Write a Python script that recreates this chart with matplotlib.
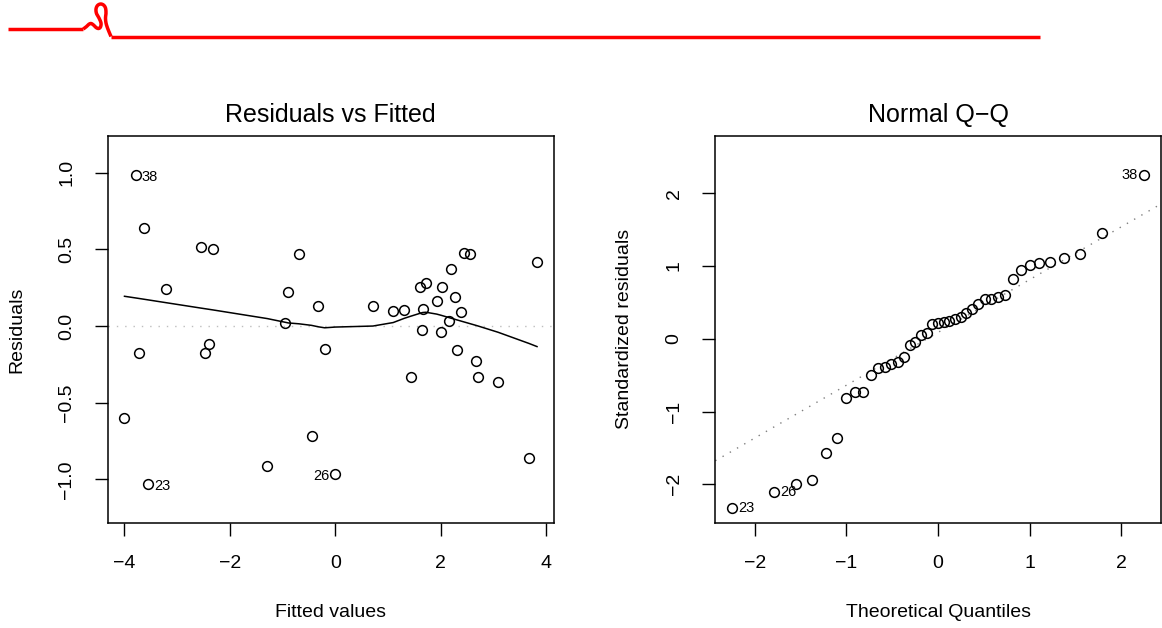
import numpy as np
import matplotlib
matplotlib.use("Agg")
import matplotlib.pyplot as plt
from matplotlib.lines import Line2D

plt.rcParams['font.family'] = ['Liberation Sans', 'DejaVu Sans']

# ---------------- data ----------------
fitted = [-3.79, -3.63, -2.55, -2.32, -0.69, -3.22, -0.89, -0.32, -0.955, -3.72,
          -2.47, -2.40, -0.20, -4.00, -3.56, -1.29, -0.45, 0.00, 0.715, 1.10,
          1.31, 1.66, 1.60, 1.72, 2.02, 1.925, 2.265, 2.19, 2.44, 2.56,
          2.39, 2.165, 1.65, 2.00, 3.83, 2.31, 2.67, 1.43, 2.71, 3.09, 3.68]
residuals = [0.985, 0.641, 0.517, 0.502, 0.468, 0.243, 0.220, 0.132, 0.022, -0.178,
             -0.178, -0.117, -0.150, -0.598, -1.029, -0.913, -0.720, -0.967, 0.128, 0.098,
             0.104, 0.111, 0.252, 0.278, 0.257, 0.161, 0.189, 0.374, 0.476, 0.470,
             0.091, 0.031, -0.026, -0.039, 0.417, -0.159, -0.230, -0.333, -0.333, -0.367, -0.863]
rvf_label_text = ["38", "23", "26"]
rvf_label_idx = [0, 14, 17]

theoretical_q = [-2.251, -1.792, -1.546, -1.370, -1.228, -1.107, -1.000, -0.904, -0.816, -0.733,
                 -0.655, -0.582, -0.511, -0.442, -0.375, -0.310, -0.246, -0.184, -0.123, -0.061,
                 0.000, 0.061, 0.123, 0.184, 0.246, 0.310, 0.375, 0.442, 0.511, 0.582,
                 0.655, 0.733, 0.816, 0.904, 1.000, 1.107, 1.228, 1.370, 1.546, 1.792, 2.251]
std_residuals = [-2.33, -2.11, -1.995, -1.935, -1.57, -1.364, -0.815, -0.733, -0.728, -0.505,
                 -0.403, -0.39, -0.344, -0.321, -0.258, -0.084, -0.052, 0.05, 0.08, 0.204,
                 0.218, 0.228, 0.246, 0.273, 0.296, 0.359, 0.41, 0.475, 0.543, 0.551,
                 0.575, 0.606, 0.826, 0.945, 1.018, 1.041, 1.051, 1.114, 1.16, 1.457, 2.244]
qq_label_text = ["38", "23", "26"]
qq_label_idx = [40, 0, 1]

rvf_xticks = [-4, -2, 0, 2, 4]
rvf_yticks = [-1.0, -0.5, 0.0, 0.5, 1.0]
qq_ticks = [-2, -1, 0, 1, 2]


def lowess(x, y, f=2/3, iters=3):
    x = np.asarray(x, float); y = np.asarray(y, float)
    o = np.argsort(x, kind='stable'); x = x[o]; y = y[o]
    n = len(x)
    ns = max(2, min(n, int(f * n + 1e-7)))
    rw = np.ones(n)
    ys = np.zeros(n)
    rng = x[-1] - x[0]
    for it in range(iters + 1):
        nleft, nright = 0, ns - 1
        for i in range(n):
            while nright < n - 1 and x[i] - x[nleft] > x[nright + 1] - x[i]:
                nleft += 1; nright += 1
            h = max(x[i] - x[nleft], x[nright] - x[i])
            h9, h1 = 0.999 * h, 0.001 * h
            w = np.zeros(n)
            for j in range(nleft, n):
                r = abs(x[j] - x[i])
                if r <= h9:
                    w[j] = 1.0 if r <= h1 else (1 - (r / h) ** 3) ** 3
                    if it > 0:
                        w[j] *= rw[j]
                elif x[j] > x[i]:
                    break
            a = w.sum()
            if a <= 0:
                ys[i] = y[i]; continue
            w /= a
            if h > 0:
                a = np.sum(w * x)
                c = np.sum(w * (x - a) ** 2)
                if np.sqrt(c) > 0.001 * rng:
                    b = (x[i] - a) / c
                    w = w * (b * (x - a) + 1)
            ys[i] = np.sum(w * y)
        if it == iters:
            break
        res = y - ys
        cmad = 6 * np.median(np.abs(res))
        if cmad < 1e-7 * np.mean(np.abs(y)):
            break
        rr = np.abs(res)
        rw = np.where(rr <= 0.001 * cmad, 1.0,
                      np.where(rr > 0.999 * cmad, 0.0, (1 - (rr / cmad) ** 2) ** 2))
    return x, ys


W, H = 1162, 628
fig = plt.figure(figsize=(W / 100, H / 100), dpi=100)

ax1 = fig.add_axes([108 / W, 1 - 522.7 / H, 445.5 / W, 386.7 / H])
ax2 = fig.add_axes([715.3 / W, 1 - 522.7 / H, 445.4 / W, 386.7 / H])

marker_kw = dict(marker='o', linestyle='none', markersize=7.0, markerfacecolor='none',
                 markeredgecolor='black', markeredgewidth=1.1)

# ---- Residuals vs Fitted ----
ax1.axhline(0, color='#bebebe', linestyle=(0, (1, 5)), linewidth=1.0)
ax1.plot(fitted, residuals, **marker_kw)
lx, ly = lowess(fitted, residuals)
ax1.plot(lx, ly, color='black', linewidth=1.1)
ax1.set_xlim(-4.313, 4.143)
ax1.set_ylim(-1.283, 1.24)
ax1.set_xticks(rvf_xticks)
ax1.set_yticks(rvf_yticks)
ax1.set_yticklabels([f"{v:.1f}".replace('-', '\u2212') for v in rvf_yticks])
xmid = (min(fitted) + max(fitted)) / 2
for t, i in zip(rvf_label_text, rvf_label_idx):
    right = fitted[i] > xmid
    ax1.annotate(t, (fitted[i], residuals[i]), xytext=(-4.2 if right else 4.6, -1.5),
                 textcoords='offset points', ha='right' if right else 'left',
                 va='center', fontsize=10.5)
ax1.set_title('Residuals vs Fitted', fontsize=18, y=1.054, va='center', pad=0)
ax1.set_xlabel('Fitted values', fontsize=14)
ax1.set_ylabel('Residuals', fontsize=14)

# ---- Normal Q-Q ----
q1, q3 = np.quantile(std_residuals, [0.25, 0.75])
t1, t3 = -0.6744898, 0.6744898
slope = (q3 - q1) / (t3 - t1)
ax2.axline((t1, q1), slope=slope, color='#7f7f7f', linestyle=(0, (1, 5)), linewidth=1.0)
ax2.plot(theoretical_q, std_residuals, **marker_kw)
ax2.set_xlim(-2.431, 2.431)
ax2.set_ylim(-2.527, 2.784)
ax2.set_xticks(qq_ticks)
ax2.set_yticks(qq_ticks)
for t, i in zip(qq_label_text, qq_label_idx):
    right = theoretical_q[i] > 0
    ax2.annotate(t, (theoretical_q[i], std_residuals[i]), xytext=(-4.5 if right else 4.8, 0),
                 textcoords='offset points', ha='right' if right else 'left',
                 va='center', fontsize=10.5)
ax2.set_title('Normal Q\u2212Q', fontsize=18, y=1.054, va='center', pad=0)
ax2.set_xlabel('Theoretical Quantiles', fontsize=14)
ax2.set_ylabel('Standardized residuals', fontsize=14)

for ax in (ax1, ax2):
    for s in ax.spines.values():
        s.set_linewidth(1.1)
    ax.tick_params(axis='both', direction='out', length=9.5, width=1.0, labelsize=14)
    ax.tick_params(axis='x', pad=14)
    ax.tick_params(axis='y', pad=14, labelrotation=90)
    for lab in ax.get_yticklabels():
        lab.set_va('center')
    ax.xaxis.set_label_coords(0.5, -0.2335)
    ax.xaxis.label.set_va('center')
    ax.yaxis.set_label_coords(-0.204, 0.5)
    ax.yaxis.label.set_va('center')

# ---- red header flourish ----
def fig_xy(pts):
    pts = np.asarray(pts, float)
    return pts[:, 0] / W, 1 - pts[:, 1] / H

def catmull(pts, k=14):
    pts = np.asarray(pts, float)
    P = np.vstack([pts[0], pts, pts[-1]])
    out = []
    for i in range(1, len(P) - 2):
        p0, p1, p2, p3 = P[i - 1], P[i], P[i + 1], P[i + 2]
        for t in np.linspace(0, 1, k, endpoint=False):
            out.append(0.5 * ((2 * p1) + (-p0 + p2) * t + (2 * p0 - 5 * p1 + 4 * p2 - p3) * t ** 2
                              + (-p0 + 3 * p1 - 3 * p2 + p3) * t ** 3))
    out.append(P[-2])
    return np.array(out)

squiggle = [(83.3, 29), (86, 27), (88.5, 24.5), (91, 23.5), (93.5, 25), (96, 27.5),
            (98.5, 28.5), (100.5, 27), (101, 23), (99, 18), (96.5, 13.5), (96, 9),
            (97.5, 5.5), (100.5, 4), (103.5, 5), (105.5, 8), (106, 13), (105.5, 18),
            (106, 23), (107.5, 28), (109.5, 33), (111, 36.5)]
red_kw = dict(color='#ff0000', linewidth=2.5, solid_capstyle='butt', solid_joinstyle='round')
xs, ys_ = fig_xy([(8, 29), (83.3, 29)])
fig.add_artist(Line2D(xs, ys_, transform=fig.transFigure, **red_kw))
xs, ys_ = fig_xy(catmull(squiggle))
fig.add_artist(Line2D(xs, ys_, transform=fig.transFigure, **red_kw))
xs, ys_ = fig_xy([(110.5, 36.5), (1040, 36.5)])
fig.add_artist(Line2D(xs, ys_, transform=fig.transFigure, **red_kw))

fig.savefig('out.png', dpi=100)
